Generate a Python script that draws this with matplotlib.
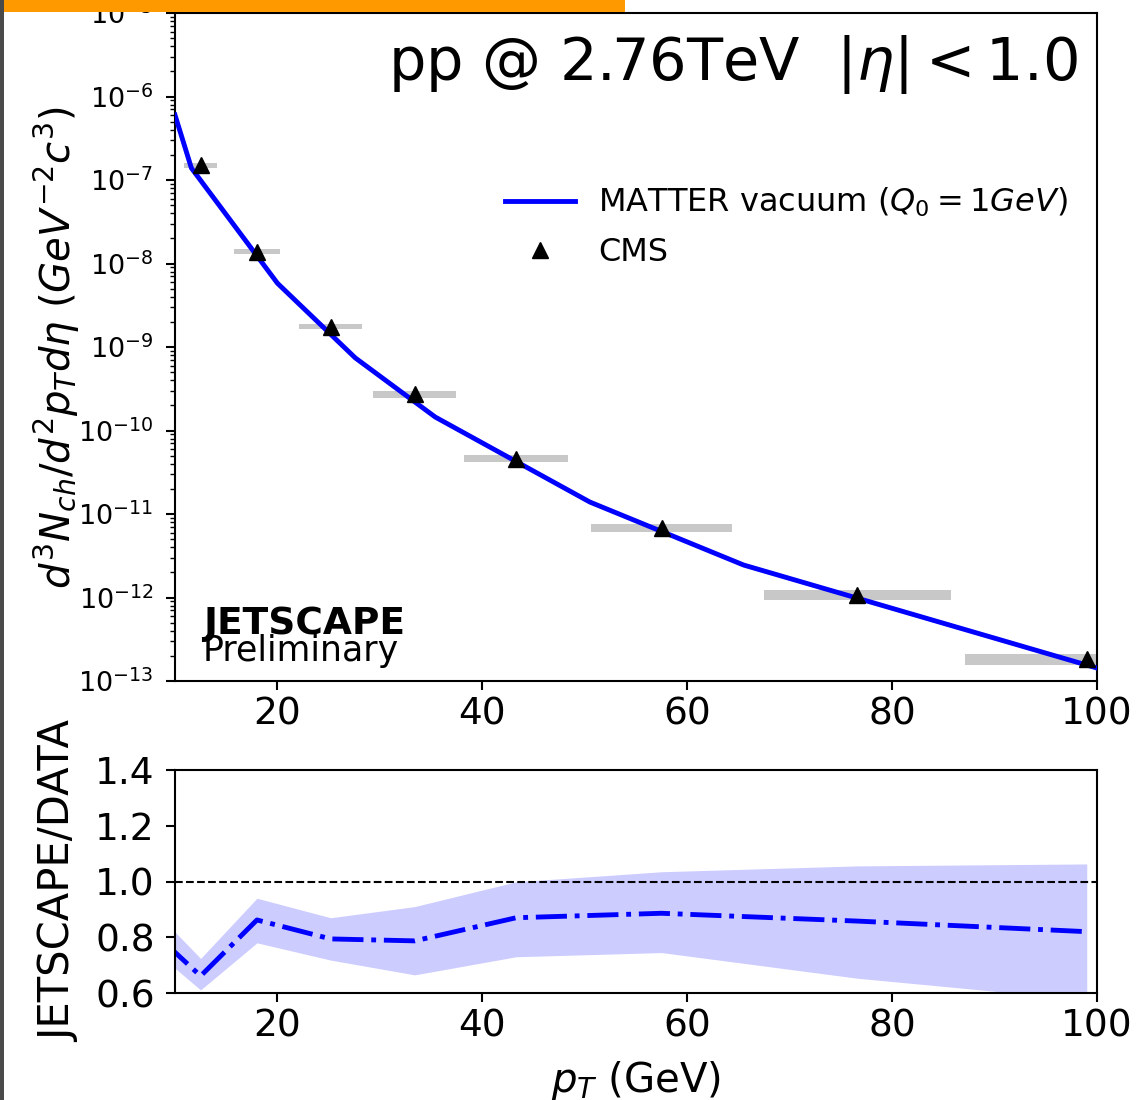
import numpy as np
import matplotlib
matplotlib.use("Agg")
import matplotlib.pyplot as plt
from matplotlib.ticker import LogLocator, NullFormatter, FixedLocator
from matplotlib.patches import Rectangle

# ---- data ----
cms_pt = [12.5, 18.0, 25.2, 33.4, 43.3, 57.5, 76.6, 99.0]
cms_y = [1.5e-7, 1.38e-8, 1.74e-9, 2.7e-10, 4.6e-11, 6.85e-12, 1.06e-12, 1.82e-13]
cms_xerr = [1.6, 2.25, 3.1, 4.05, 5.05, 6.85, 9.1, 11.9]
cms_sys_rel = [0.08, 0.07, 0.07, 0.09, 0.10, 0.11, 0.15, 0.17]

mat_pt = [10.0, 11.6, 20.0, 27.6, 35.4, 50.5, 65.5, 100.0]
mat_y = [6.0e-7, 1.39e-7, 5.8e-9, 7.4e-10, 1.45e-10, 1.39e-11, 2.45e-12, 1.43e-13]
mat_rel_err = 0.05

ratio_pt = [9.0, 12.5, 18.0, 25.2, 33.4, 43.3, 57.5, 76.6, 99.0]
ratio = [0.78, 0.661, 0.862, 0.794, 0.787, 0.870, 0.886, 0.858, 0.820]
ratio_hi = [0.857, 0.724, 0.94, 0.87, 0.91, 0.999, 1.035, 1.056, 1.063]
ratio_lo = [0.72, 0.611, 0.78, 0.718, 0.665, 0.73, 0.745, 0.653, 0.575]

x_ticks = [20, 40, 60, 80, 100]
ratio_ticks = [0.6, 0.8, 1.0, 1.2, 1.4]

W, H = 1140, 1100
fig = plt.figure(figsize=(W / 100, H / 100), dpi=100)

def frac_box(l, t, r, b):
    return [l / W, 1 - b / H, (r - l) / W, (b - t) / H]

ax = fig.add_axes(frac_box(175, 13, 1097, 681))
axr = fig.add_axes(frac_box(175, 770, 1097, 993))

# ---- top panel ----
cms_pt_a = np.array(cms_pt)
cms_y_a = np.array(cms_y)
rel = np.array(cms_sys_rel)
lo = cms_y_a / (1 + rel)
hi = cms_y_a * (1 + rel)
ax.bar(cms_pt_a, hi - lo, bottom=lo, width=2 * np.array(cms_xerr),
       color='#c8c8c8', edgecolor='none', zorder=1)
mpt = np.array(mat_pt)
my = np.array(mat_y)
ax.fill_between(mpt, my * (1 - mat_rel_err), my * (1 + mat_rel_err),
                color='blue', alpha=0.2, lw=0, zorder=2)
ax.plot(mpt, my, color='blue', lw=3.5, zorder=3,
        label=r'MATTER vacuum ($Q_0=1GeV$)')
ax.plot(cms_pt, cms_y, '^', color='black', ms=12, zorder=4, label='CMS')

ax.set_yscale('log')
ax.set_xlim(10, 100)
ax.set_ylim(1e-13, 1e-5)
ax.xaxis.set_major_locator(FixedLocator(x_ticks))
ax.yaxis.set_major_locator(LogLocator(base=10, numticks=30))
ax.yaxis.set_minor_locator(LogLocator(base=10, subs=np.arange(2, 10), numticks=30))
ax.yaxis.set_minor_formatter(NullFormatter())
ax.tick_params(axis='x', which='major', labelsize=27, direction='out', length=6.5, width=1.5, pad=5)
ax.tick_params(axis='y', which='major', labelsize=19.5, direction='out', length=6.5, width=1.5, pad=9)
ax.tick_params(axis='y', which='minor', direction='out', length=3.5, width=1)
ax.set_ylabel(r'$d^3N_{ch}/d^2p_Td\eta$ $(GeV^{-2}c^3)$', fontsize=29)
ax.yaxis.set_label_coords(-0.101, 0.5)

leg = ax.legend(loc='upper right', bbox_to_anchor=(1.0, 0.784), frameon=False,
                fontsize=23, handlelength=2.2, handletextpad=0.72, labelspacing=0.55)

fig.text(1078 / W, 1 - 80 / H, r'pp @ 2.76TeV  $|\eta| < 1.0$', fontsize=42.5,
         ha='right', va='baseline')
fig.text(203 / W, 1 - 634 / H, 'JETSCAPE', fontsize=27, fontweight='bold',
         ha='left', va='baseline')
fig.text(203 / W, 1 - 661 / H, 'Preliminary', fontsize=25,
         ha='left', va='baseline')

# ---- ratio panel ----
axr.fill_between(ratio_pt, ratio_lo, ratio_hi, color='blue', alpha=0.2, lw=0)
axr.plot(ratio_pt, ratio, color='blue', lw=3.5, ls='-.')
axr.axhline(1.0, color='black', lw=1.5, ls='--')
axr.set_xlim(10, 100)
axr.set_ylim(0.6, 1.4)
axr.xaxis.set_major_locator(FixedLocator(x_ticks))
axr.yaxis.set_major_locator(FixedLocator(ratio_ticks))
axr.tick_params(axis='x', which='major', labelsize=27, direction='out', length=6.5, width=1.5, pad=5)
axr.tick_params(axis='y', which='major', labelsize=27, direction='out', length=6.5, width=1.5, pad=8)
axr.set_ylabel('JETSCAPE/DATA', fontsize=30)
axr.yaxis.set_label_coords(-0.103, 0.5)
axr.set_xlabel(r'$p_T$ (GeV)', fontsize=29)
axr.xaxis.set_label_coords(0.5, -0.295)

for a in (ax, axr):
    for s in a.spines.values():
        s.set_linewidth(1.5)

# slide decorations (orange banner, left border)
fig.patches.append(Rectangle((0, 1 - 12 / H), 625 / W, 12 / H, transform=fig.transFigure,
                             facecolor='#ff9900', edgecolor='none', zorder=10))
fig.patches.append(Rectangle((0, 0), 4 / W, 1, transform=fig.transFigure,
                             facecolor='#4a4a4a', edgecolor='none', zorder=10))

fig.savefig('out.png', dpi=100)
